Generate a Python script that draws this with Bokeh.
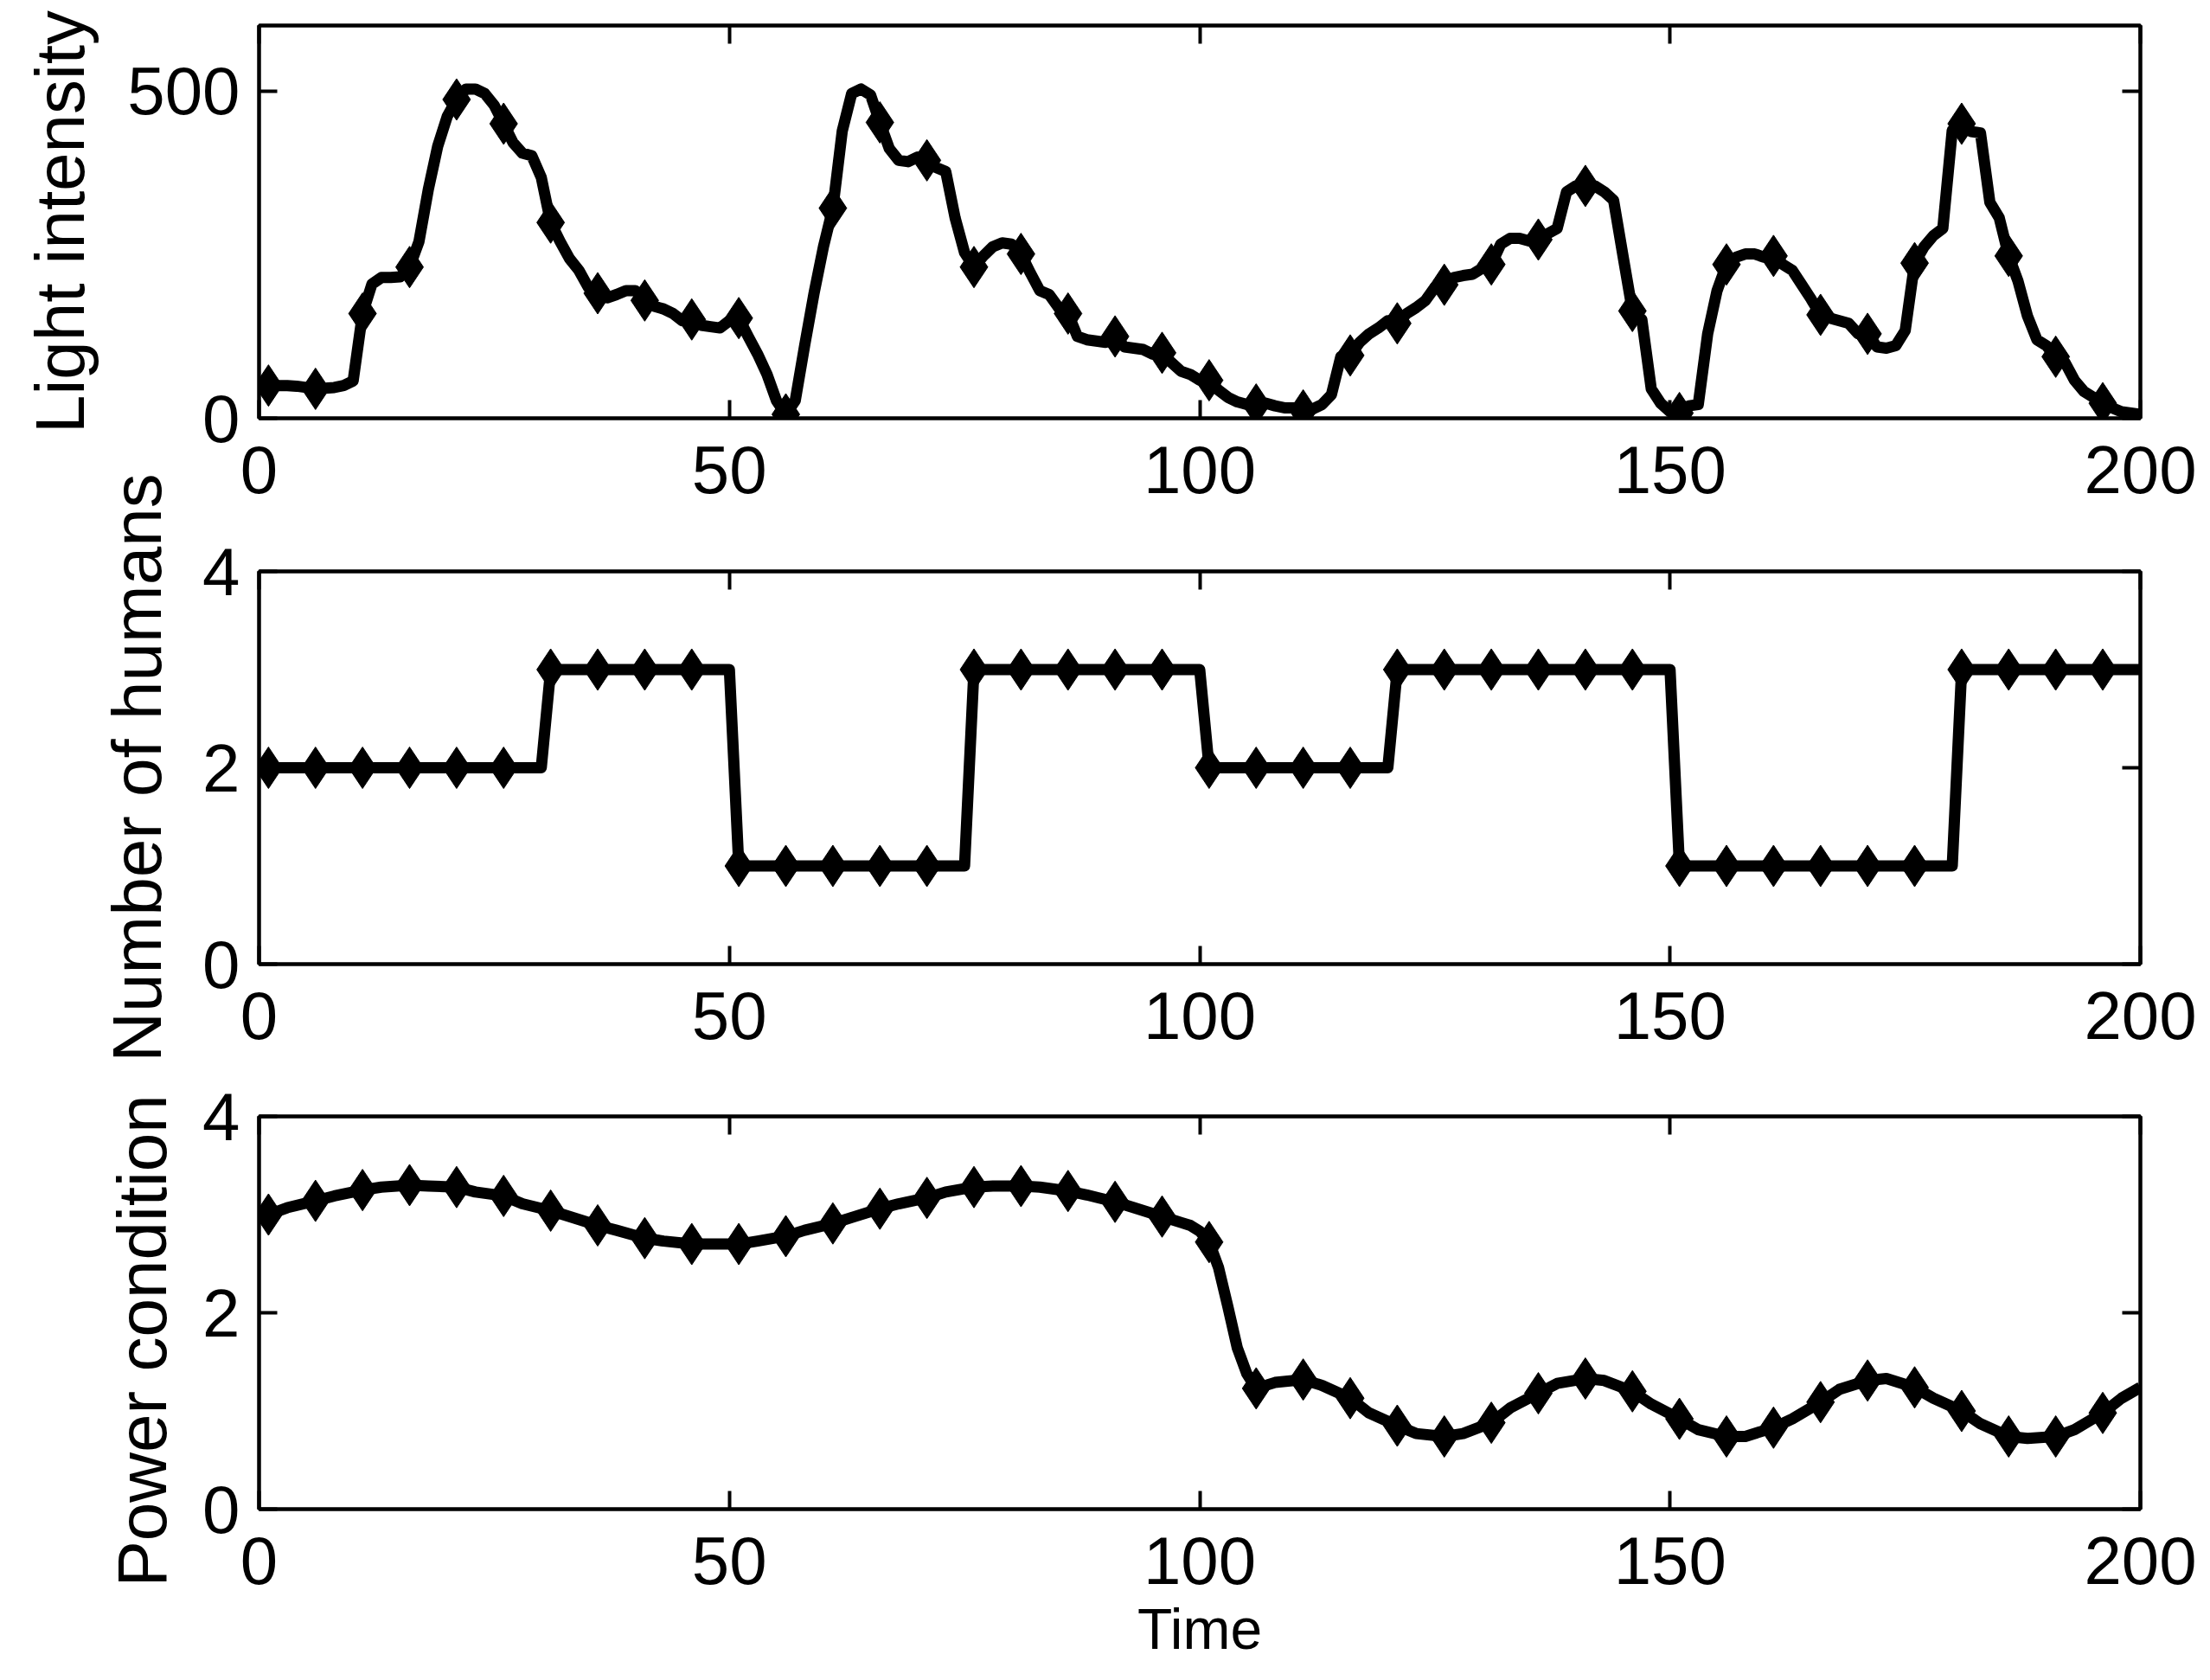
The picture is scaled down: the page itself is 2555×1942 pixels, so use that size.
from bokeh.plotting import figure
from bokeh.layouts import column
from bokeh.models import Range1d, LinearAxis, FixedTicker, Title
from bokeh.embed import file_html
from bokeh.resources import INLINE

# ---------------- data ----------------
time = list(range(1, 201))

light = [50, 50, 50, 49, 47, 45, 46, 47, 50, 57,
         160, 205, 215, 215, 216, 231, 270, 350, 416, 461,
         487, 503, 503, 496, 478, 450, 421, 405, 401, 368,
         299, 270, 244, 226, 200, 191, 184, 189, 195, 195,
         180, 171, 167, 160, 149, 151, 142, 140, 138, 149,
         153, 125, 98, 67, 27, 6, 27, 111, 191, 262,
         321, 439, 496, 503, 494, 452, 412, 394, 392, 399,
         394, 383, 377, 306, 253, 231, 248, 262, 268, 266,
         251, 222, 195, 189, 169, 160, 125, 120, 118, 116,
         125, 109, 107, 105, 98, 100, 85, 72, 67, 58,
         58, 43, 32, 25, 21, 21, 23, 19, 16, 16,
         12, 14, 21, 36, 94, 96, 116, 129, 138, 149,
         145, 160, 169, 180, 200, 204, 215, 218, 220, 229,
         235, 266, 275, 275, 271, 273, 282, 290, 346, 355,
         355, 355, 346, 333, 248, 164, 151, 45, 23, 10,
         8, 19, 21, 129, 195, 235, 246, 251, 251, 246,
         248, 235, 226, 204, 182, 158, 153, 149, 145, 129,
         129, 109, 107, 111, 134, 237, 262, 279, 290, 440,
         450, 438, 436, 330, 306, 248, 209, 156, 120, 111,
         94, 85, 58, 41, 32, 23, 16, 10, 8, 6]

humans = [2] * 30 + [3] * 20 + [1] * 25 + [3] * 25 + [2] * 20 + [3] * 30 + [1] * 30 + [3] * 20

power_time = [1, 3, 6, 8, 11, 13, 16, 18, 21, 23, 26, 28, 31, 33, 36, 38, 41, 43, 46, 48,
              51, 53, 56, 58, 61, 63, 66, 68, 71, 73, 76, 78, 81, 83, 86, 88, 91, 93, 96, 98,
              99, 100, 101, 102, 103, 104, 105, 106, 108, 111, 113, 116, 118, 121, 123, 126, 128,
              131, 133, 136, 138, 141, 143, 146, 148, 151, 153, 156, 158, 161, 163, 166, 168,
              171, 173, 176, 178, 181, 183, 186, 188, 191, 193, 196, 198, 200]
power = [3.00, 3.07, 3.14, 3.19, 3.25, 3.28, 3.30, 3.29, 3.28, 3.23, 3.19, 3.11, 3.04, 2.98,
         2.89, 2.84, 2.76, 2.73, 2.70, 2.70, 2.70, 2.73, 2.78, 2.84, 2.91, 2.97, 3.06, 3.11,
         3.17, 3.23, 3.28, 3.29, 3.29, 3.28, 3.24, 3.20, 3.13, 3.07, 2.98, 2.92,
         2.89, 2.83, 2.72, 2.46, 2.06, 1.64, 1.38, 1.23, 1.29, 1.32, 1.26, 1.13, 0.98, 0.85,
         0.77, 0.74, 0.77, 0.88, 1.03, 1.18, 1.28, 1.33, 1.31, 1.20, 1.07, 0.92, 0.81, 0.74,
         0.74, 0.83, 0.92, 1.09, 1.22, 1.31, 1.33, 1.24, 1.13, 1.00, 0.87, 0.74, 0.72, 0.74,
         0.81, 0.98, 1.13, 1.24]

x_ticks = [0, 50, 100, 150, 200]
light_ticks = [0, 500]
count_ticks = [0, 2, 4]
power_ticks = [0, 2, 4]

# ---------------- styling ----------------
TICK_FONT = "Liberation Sans"
LABEL_FONT = "Liberation Sans"
FRAME_W, FRAME_H = 2175, 454
LEFT, RIGHT = 299, 70


def style_axis(ax, ticks, show_labels=True, standoff=22):
    ax.ticker = FixedTicker(ticks=ticks)
    ax.axis_line_color = "black"
    ax.axis_line_width = 4
    ax.major_tick_line_color = "black"
    ax.major_tick_line_width = 4
    ax.major_tick_in = 21
    ax.major_tick_out = 0
    ax.minor_tick_line_color = None
    if show_labels:
        ax.major_label_text_font = TICK_FONT
        ax.major_label_text_font_size = "78px"
        ax.major_label_text_color = "black"
        ax.major_label_standoff = standoff
    else:
        ax.major_label_text_font_size = "10px"
        ax.major_label_text_color = None
        ax.major_label_standoff = 0


def panel(xs, ys, mxs, mys, y_end, yticks, top, bottom, margin=None):
    kw = {}
    if margin is not None:
        kw["margin"] = margin
    p = figure(frame_width=FRAME_W, frame_height=FRAME_H,
               x_range=Range1d(0, 200), y_range=Range1d(0, y_end),
               output_backend="svg", toolbar_location=None,
               min_border_left=LEFT, min_border_right=RIGHT,
               min_border_top=top, min_border_bottom=bottom,
               background_fill_color="white", border_fill_color=None,
               outline_line_color="black", outline_line_width=4, **kw)
    p.grid.visible = False
    style_axis(p.below[0], x_ticks, standoff=32)
    style_axis(p.left[0], yticks, standoff=22)
    ta = LinearAxis()
    style_axis(ta, x_ticks, show_labels=False)
    p.add_layout(ta, "above")
    ra = LinearAxis()
    style_axis(ra, yticks, show_labels=False)
    p.add_layout(ra, "right")

    p.line(xs, ys, line_color="black", line_width=13, line_join="round")
    p.scatter(mxs, mys, marker="diamond", size=48,
              fill_color="black", line_color="black", line_width=1)
    return p


def y_label(p, text, standoff):
    ax = p.left[0]
    ax.axis_label = text
    ax.axis_label_text_font = LABEL_FONT
    ax.axis_label_text_font_size = "80px"
    ax.axis_label_text_font_style = "normal"
    ax.axis_label_text_color = "black"
    ax.axis_label_standoff = standoff


m_idx = [i for i, t in enumerate(time) if (t - 1) % 5 == 0]
pm = [i for i, t in enumerate(power_time) if (t - 1) % 5 == 0]

p1 = panel(time, light, [time[i] for i in m_idx], [light[i] for i in m_idx],
           600, light_ticks, top=29, bottom=130)
y_label(p1, "Light intensity", 30)

p2 = panel(time, humans, [time[i] for i in m_idx], [humans[i] for i in m_idx],
           4, count_ticks, top=115, bottom=130, margin=(-68, 0, 0, 0))
y_label(p2, "Number of humans", 28)

p3 = panel(power_time, power, [power_time[i] for i in pm], [power[i] for i in pm],
           4, power_ticks, top=70, bottom=195, margin=(-24, 0, 0, 0))
p3.add_layout(Title(text="Power condition", align="left", offset=-90,
                    text_font=LABEL_FONT, text_font_size="80px",
                    text_font_style="normal", text_color="black",
                    standoff=45), "left")
bx = p3.below[0]
bx.axis_label = "Time"
bx.axis_label_text_font = LABEL_FONT
bx.axis_label_text_font_size = "66px"
bx.axis_label_text_font_style = "normal"
bx.axis_label_text_color = "black"
bx.axis_label_standoff = 12

layout = column(p1, p2, p3, spacing=0)
open("out.html", "w").write(file_html(layout, INLINE))
